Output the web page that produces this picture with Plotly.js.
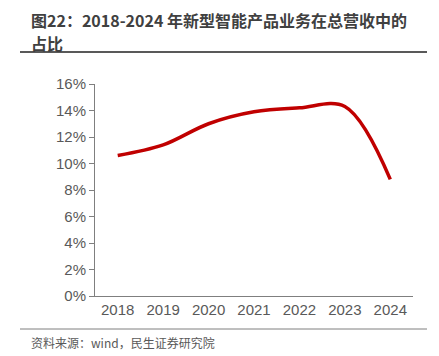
<!DOCTYPE html>
<html>
<head>
<meta charset="utf-8">
<script src="https://cdn.plot.ly/plotly-3.0.1.min.js"></script>
<style>
html,body{margin:0;padding:0;background:#fff;}
#chart{width:439px;height:356px;}
</style>
</head>
<body>
<div id="chart"></div>
<script>
const years = ['2018','2019','2020','2021','2022','2023','2024'];
const shareValues = [0.106, 0.114, 0.130, 0.139, 0.142, 0.143, 0.088];
const yTickVals = [0, 0.02, 0.04, 0.06, 0.08, 0.10, 0.12, 0.14, 0.16];
const yTickText = ['0%','2%','4%','6%','8%','10%','12%','14%','16%'];
const titleLine1 = '图22：2018-2024 年新型智能产品业务在总营收中的';
const titleLine2 = '占比';
const sourceText = '资料来源：wind，民生证券研究院';

const trace = {
  x: years,
  y: shareValues,
  type: 'scatter',
  mode: 'lines',
  line: {color: '#C00000', width: 3.5, shape: 'spline', smoothing: 1},
  hoverinfo: 'skip'
};

const cjk = '"Noto Sans CJK SC", "Noto Sans", sans-serif';
const latin = 'Arial, "Liberation Sans", sans-serif';
const py = p => (296 - p) / 212;
const px = p => (p - 95) / 318;

const layout = {
  width: 439,
  height: 356,
  margin: {l: 95, r: 26, t: 84, b: 60},
  paper_bgcolor: '#ffffff',
  plot_bgcolor: '#ffffff',
  showlegend: false,
  xaxis: {
    type: 'category',
    range: [-0.5, 6.5],
    showgrid: false,
    zeroline: false,
    showline: true,
    linecolor: '#7f7f7f',
    linewidth: 1,
    ticks: '',
    tickfont: {family: latin, size: 15, color: '#595959'},
    fixedrange: true
  },
  yaxis: {
    range: [0, 0.16],
    tickvals: yTickVals,
    ticktext: yTickText,
    showgrid: false,
    zeroline: false,
    showline: true,
    linecolor: '#7f7f7f',
    linewidth: 1,
    ticks: 'outside',
    ticklen: 5,
    tickcolor: '#7f7f7f',
    tickfont: {family: latin, size: 15, color: '#595959'},
    fixedrange: true
  },
  annotations: [
    {
      text: '<b>' + titleLine1 + '</b>',
      xref: 'paper', yref: 'paper',
      x: px(29), y: py(20),
      xanchor: 'left', yanchor: 'middle',
      showarrow: false,
      font: {family: cjk, size: 16, color: '#404040'}
    },
    {
      text: '<b>' + titleLine2 + '</b>',
      xref: 'paper', yref: 'paper',
      x: px(29), y: py(43),
      xanchor: 'left', yanchor: 'middle',
      showarrow: false,
      font: {family: cjk, size: 16, color: '#404040'}
    },
    {
      text: sourceText,
      xref: 'paper', yref: 'paper',
      x: px(29), y: py(342),
      xanchor: 'left', yanchor: 'middle',
      showarrow: false,
      font: {family: cjk, size: 12, color: '#595959'}
    }
  ],
  shapes: [
    {
      type: 'line', xref: 'paper', yref: 'paper',
      x0: px(20), x1: px(427),
      y0: py(52), y1: py(52),
      line: {color: '#595959', width: 2}
    },
    {
      type: 'line', xref: 'paper', yref: 'paper',
      x0: px(20), x1: px(427),
      y0: py(329), y1: py(329),
      line: {color: '#7f7f7f', width: 1}
    }
  ]
};

Plotly.newPlot('chart', [trace], layout, {displayModeBar: false, staticPlot: true});
</script>
</body>
</html>
